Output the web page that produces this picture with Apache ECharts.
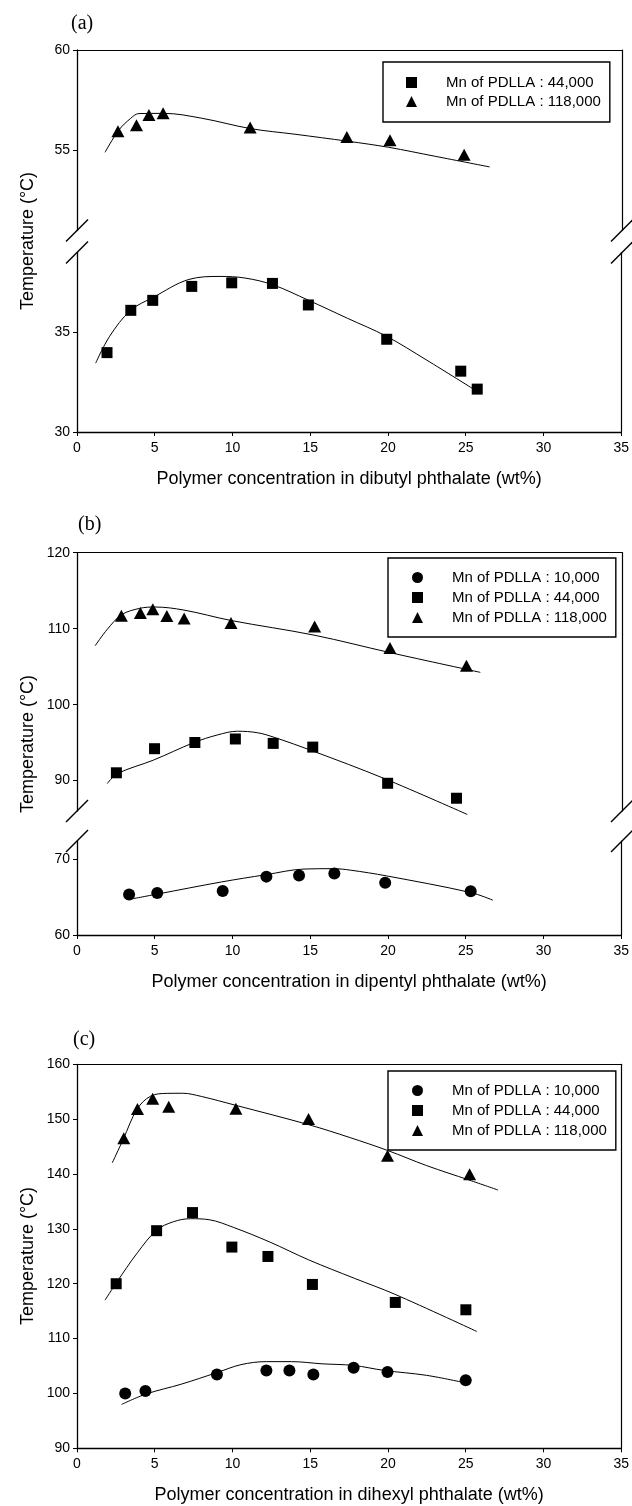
<!DOCTYPE html>
<html>
<head>
<meta charset="utf-8">
<title>PDLLA cloud point curves</title>
<script src="https://cdn.jsdelivr.net/npm/echarts@6.0.0/dist/echarts.min.js"></script>
<style>
    html, body { margin: 0; padding: 0; background: #fff; }
    #J_echarts { width: 632px; height: 1506px; }
</style>
</head>
<body>
<div id="J_echarts"></div>
<script>
// series names (legend)
var name10 = 'Mn of PDLLA : 10,000';
var name44 = 'Mn of PDLLA : 44,000';
var name118 = 'Mn of PDLLA : 118,000';

// tick labels
var xTicks = [0, 5, 10, 15, 20, 25, 30, 35];
var aUpperTicks = [55, 60];
var aLowerTicks = [30, 35];
var bUpperTicks = [90, 100, 110, 120];
var bLowerTicks = [60, 70];
var cTicks = [90, 100, 110, 120, 130, 140, 150, 160];

// (a) dibutyl phthalate
var a118X = [2.63, 3.82, 4.62, 5.53, 11.12, 17.33, 20.1, 24.86];
var a118Y = [55.95, 56.25, 56.76, 56.85, 56.13, 55.66, 55.5, 54.78];
var a118FitX = [1.8, 2.68, 3.43, 3.97, 5.6, 8.0, 11.15, 14.0, 17.4, 20.0, 23.0, 26.5];
var a118FitY = [54.9, 56.0, 56.58, 56.83, 56.84, 56.6, 56.08, 55.8, 55.45, 55.15, 54.7, 54.17];
var a44X = [1.93, 3.46, 4.87, 7.38, 9.95, 12.57, 14.88, 19.92, 24.68, 25.74];
var a44Y = [33.98, 36.1, 36.6, 37.3, 37.48, 37.45, 36.37, 34.65, 33.05, 32.15];
var a44FitX = [1.2, 2.1, 3.45, 4.9, 7.2, 9.2, 10.8, 12.6, 14.9, 17.4, 19.9, 22.5, 25.5];
var a44FitY = [33.45, 34.8, 36.1, 36.75, 37.65, 37.8, 37.72, 37.38, 36.6, 35.7, 34.8, 33.6, 32.15];

// (b) dipentyl phthalate
var b118X = [2.85, 4.07, 4.87, 5.77, 6.88, 9.89, 15.26, 20.1, 25.01];
var b118Y = [111.71, 112.06, 112.55, 111.66, 111.33, 110.75, 110.3, 107.46, 105.13];
var b118FitX = [1.17, 1.94, 2.87, 4.04, 5.0, 6.86, 9.91, 15.22, 20.1, 25.9];
var b118FitY = [107.76, 109.9, 111.84, 112.68, 112.85, 112.45, 111.07, 109.15, 106.85, 104.25];
var b44X = [2.53, 4.98, 7.57, 10.17, 12.6, 15.14, 19.95, 24.37];
var b44Y = [91.03, 94.2, 95.02, 95.48, 94.9, 94.41, 89.65, 87.68];
var b44FitX = [1.94, 2.58, 4.91, 7.5, 9.0, 10.3, 11.6, 12.66, 15.14, 19.7, 25.06];
var b44FitY = [89.6, 90.9, 92.7, 95.0, 96.0, 96.5, 96.3, 95.7, 93.9, 90.3, 85.55];
var b10X = [3.35, 5.16, 9.37, 12.18, 14.28, 16.55, 19.82, 25.32];
var b10Y = [65.35, 65.53, 65.8, 67.7, 67.85, 68.1, 66.89, 65.78];
var b10FitX = [3.45, 5.17, 9.3, 12.14, 14.6, 16.5, 17.6, 19.9, 25.32, 26.74];
var b10FitY = [64.73, 65.4, 67.0, 67.95, 68.7, 68.75, 68.55, 67.8, 65.6, 64.6];

// (c) dihexyl phthalate
var c118X = [3.01, 3.89, 4.87, 5.9, 10.22, 14.89, 19.97, 25.25];
var c118Y = [146.5, 151.83, 153.7, 152.26, 151.9, 150.05, 143.32, 139.95];
var c118FitX = [2.27, 2.97, 3.87, 4.74, 5.8, 6.8, 8.0, 10.2, 14.89, 17.57, 19.97, 22.48, 25.25, 27.08];
var c118FitY = [142.05, 146.3, 151.85, 154.2, 154.7, 154.72, 154.14, 152.53, 149.0, 146.63, 144.3, 141.54, 138.87, 137.08];
var c44X = [2.52, 5.12, 7.43, 9.96, 12.28, 15.14, 20.47, 25.01];
var c44Y = [120.0, 129.67, 132.97, 126.68, 124.97, 119.87, 116.59, 115.25];
var c44FitX = [1.8, 2.55, 3.88, 5.12, 6.2, 7.3, 8.5, 10.08, 12.4, 14.9, 17.83, 20.41, 25.71];
var c44FitY = [117.0, 120.25, 125.63, 129.76, 131.3, 131.85, 131.67, 130.25, 127.6, 124.35, 121.0, 118.12, 111.3];
var c10X = [3.1, 4.4, 9.0, 12.18, 13.66, 15.2, 17.79, 19.97, 25.0];
var c10Y = [100.0, 100.45, 103.45, 104.2, 104.2, 103.45, 104.68, 103.9, 102.4];
var c10FitX = [2.87, 4.45, 6.72, 9.0, 10.55, 12.18, 13.8, 15.76, 17.8, 19.74, 22.48, 24.94];
var c10FitY = [98.0, 99.9, 101.7, 103.8, 105.25, 105.8, 105.8, 105.4, 105.1, 104.2, 103.3, 101.95];

var FONT = '"Liberation Sans", Arial, sans-serif';
var SERIF = '"Liberation Serif", "Times New Roman", serif';
var INK = '#000';

// grid layout: [top, height]; upper/lower halves of a broken axis are separate grids
var plotLeft = 77, plotWidth = 545;
var gridBoxes = [
    [50, 180.5],    // (a) upper
    [252.5, 179.5], // (a) lower
    [552.7, 258.3], // (b) upper
    [841, 94],      // (b) lower
    [1064.3, 384]   // (c)
];

function pairs(xs, ys) {
    return xs.map(function (x, i) { return [x, ys[i]]; });
}

function bottomX(gridIndex, name) {
    return {
        gridIndex: gridIndex, type: 'value', position: 'bottom',
        min: xTicks[0], max: xTicks[xTicks.length - 1], interval: 5,
        name: name, nameLocation: 'middle', nameGap: 38,
        nameTextStyle: { fontFamily: FONT, fontSize: 18, color: INK },
        axisLine: { show: true, onZero: false, lineStyle: { color: INK, width: 1.3 } },
        axisTick: { show: true, length: 4, lineStyle: { color: INK, width: 1 } },
        axisLabel: { fontFamily: FONT, fontSize: 14, color: INK, margin: 9 },
        splitLine: { show: false }
    };
}

function frameX(gridIndex) {
    return {
        gridIndex: gridIndex, type: 'value', position: 'top', min: 0, max: 35,
        axisLine: { show: true, onZero: false, lineStyle: { color: INK, width: 1.2 } },
        axisTick: { show: false }, axisLabel: { show: false }, splitLine: { show: false }
    };
}

function leftY(gridIndex, min, max, ticks) {
    return {
        gridIndex: gridIndex, type: 'value', position: 'left', min: min, max: max,
        axisLine: { show: true, onZero: false, lineStyle: { color: INK, width: 1.3 } },
        axisTick: { show: true, length: 4, customValues: ticks, lineStyle: { color: INK, width: 1 } },
        axisLabel: { customValues: ticks, fontFamily: FONT, fontSize: 14, color: INK, margin: 7 },
        splitLine: { show: false }
    };
}

function frameY(gridIndex, min, max) {
    return {
        gridIndex: gridIndex, type: 'value', position: 'right', min: min, max: max,
        axisLine: { show: true, onZero: false, lineStyle: { color: INK, width: 1.2 } },
        axisTick: { show: false }, axisLabel: { show: false }, splitLine: { show: false }
    };
}

function markers(name, symbol, size, xi, yi, xs, ys) {
    return {
        name: name, type: 'scatter', xAxisIndex: xi, yAxisIndex: yi,
        symbol: symbol, symbolSize: size, itemStyle: { color: INK, opacity: 1 },
        data: pairs(xs, ys), z: 3
    };
}

function fit(xi, yi, xs, ys) {
    return {
        type: 'line', xAxisIndex: xi, yAxisIndex: yi, data: pairs(xs, ys),
        smooth: 0.35, symbol: 'none', showSymbol: false, clip: false, silent: true,
        lineStyle: { color: INK, width: 1 }, z: 2
    };
}

function legendBox(left, top, names, gap, padding) {
    return {
        data: names, orient: 'vertical', left: left, top: top,
        itemWidth: 11, itemHeight: 11, itemGap: gap, padding: padding,
        borderColor: INK, borderWidth: 1.4, backgroundColor: '#fff',
        selectedMode: false,
        itemStyle: { opacity: 1 },
        textStyle: { fontFamily: FONT, fontSize: 15, lineHeight: 14, color: INK, padding: [0, 0, 0, 24] }
    };
}

// slash pairs where an axis is broken
function breakMarks(yTop, yBottom) {
    var out = [];
    [plotLeft, plotLeft + plotWidth].forEach(function (x) {
        [yTop, yBottom].forEach(function (y) {
            out.push({
                type: 'line', silent: true,
                shape: { x1: x - 11, y1: y + 11, x2: x + 11, y2: y - 11 },
                style: { stroke: INK, lineWidth: 1.5 }
            });
        });
    });
    return out;
}

function yTitle(cy) {
    return {
        type: 'text', x: 28, y: cy, rotation: Math.PI / 2, silent: true,
        style: {
            text: 'Temperature (°C)', font: '18px ' + FONT, fill: INK,
            align: 'center', verticalAlign: 'middle',
            textAlign: 'center', textVerticalAlign: 'middle'
        }
    };
}

var dom = document.getElementById('J_echarts');
var myChart = echarts.init(dom, null, { renderer: 'canvas' });

var option = {
    animation: false,
    backgroundColor: '#fff',
    title: [
        { text: '(a)', left: 71, top: 14, padding: 0, textStyle: { fontFamily: SERIF, fontSize: 20, fontWeight: 'normal', color: INK } },
        { text: '(b)', left: 78, top: 515, padding: 0, textStyle: { fontFamily: SERIF, fontSize: 20, fontWeight: 'normal', color: INK } },
        { text: '(c)', left: 73, top: 1030, padding: 0, textStyle: { fontFamily: SERIF, fontSize: 20, fontWeight: 'normal', color: INK } }
    ],
    grid: gridBoxes.map(function (g) {
        return { left: plotLeft, width: plotWidth, top: g[0], height: g[1], containLabel: false };
    }),
    legend: [
        legendBox(383, 62, [name44, name118], 4, [13, 9, 13, 23]),
        legendBox(388, 558, [name10, name44, name118], 5, [12, 9, 12, 24]),
        legendBox(388, 1071, [name10, name44, name118], 5, [12, 9, 12, 24])
    ],
    xAxis: [
        frameX(0),
        bottomX(1, 'Polymer concentration in dibutyl phthalate (wt%)'),
        frameX(2),
        bottomX(3, 'Polymer concentration in dipentyl phthalate (wt%)'),
        bottomX(4, 'Polymer concentration in dihexyl phthalate (wt%)'),
        frameX(4)
    ],
    yAxis: [
        leftY(0, 51, 60, aUpperTicks), frameY(0, 51, 60),
        leftY(1, 30, 39, aLowerTicks), frameY(1, 30, 39),
        leftY(2, 86, 120, bUpperTicks), frameY(2, 86, 120),
        leftY(3, 60, 72.4, bLowerTicks), frameY(3, 60, 72.4),
        leftY(4, 90, 160, cTicks), frameY(4, 90, 160)
    ],
    graphic: [].concat(
        breakMarks(230.5, 252.5),
        breakMarks(811, 841),
        [yTitle(241), yTitle(744), yTitle(1256)]
    ),
    series: [
        // (a)
        fit(0, 0, a118FitX, a118FitY),
        markers(name118, 'triangle', [13, 12], 0, 0, a118X, a118Y),
        fit(1, 2, a44FitX, a44FitY),
        markers(name44, 'rect', 11, 1, 2, a44X, a44Y),
        // (b)
        fit(2, 4, b118FitX, b118FitY),
        markers(name118, 'triangle', [13, 12], 2, 4, b118X, b118Y),
        fit(2, 4, b44FitX, b44FitY),
        markers(name44, 'rect', 11, 2, 4, b44X, b44Y),
        fit(3, 6, b10FitX, b10FitY),
        markers(name10, 'circle', 12, 3, 6, b10X, b10Y),
        // (c)
        fit(4, 8, c118FitX, c118FitY),
        markers(name118, 'triangle', [13, 12], 4, 8, c118X, c118Y),
        fit(4, 8, c44FitX, c44FitY),
        markers(name44, 'rect', 11, 4, 8, c44X, c44Y),
        fit(4, 8, c10FitX, c10FitY),
        markers(name10, 'circle', 12, 4, 8, c10X, c10Y)
    ]
};

if (option && typeof option === 'object') {
    myChart.setOption(option, true);
}
</script>
</body>
</html>
